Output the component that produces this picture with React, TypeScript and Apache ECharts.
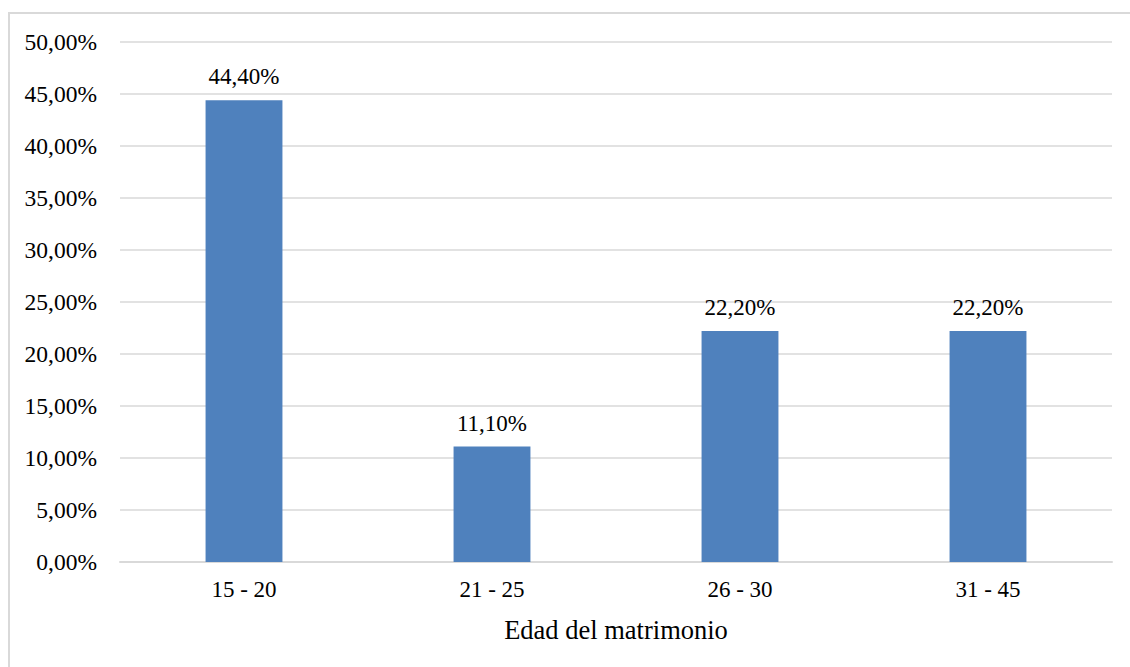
import React, { useEffect, useRef } from "react";
import * as echarts from "echarts";

const categories = ["15 - 20", "21 - 25", "26 - 30", "31 - 45"];
const values = [44.4, 11.1, 22.2, 22.2];
const axisName = "Edad del matrimonio";

const fmt = (v: number) => v.toFixed(2).replace(".", ",") + "%";

export default function App() {
  const ref = useRef<HTMLDivElement>(null);
  useEffect(() => {
    document.body.style.margin = "0";
    const chart = echarts.init(ref.current!, null, { renderer: "svg" });
    const font = "Liberation Serif";
    chart.setOption({
      animation: false,
      backgroundColor: "#ffffff",
      textStyle: { fontFamily: font },
      graphic: [
        {
          type: "rect",
          shape: { x: 9, y: 13, width: 1200, height: 800 },
          style: { fill: "none", stroke: "#d9d9d9", lineWidth: 2 },
          silent: true,
        },
      ],
      grid: { left: 120, right: 18, top: 42, bottom: 105 },
      xAxis: {
        type: "category",
        data: categories,
        name: axisName,
        nameLocation: "middle",
        nameGap: 54,
        nameTextStyle: { fontFamily: font, fontSize: 26.5, color: "#000" },
        axisLine: { lineStyle: { color: "#d9d9d9", width: 2 } },
        axisTick: { show: false },
        axisLabel: { fontFamily: font, fontSize: 23, color: "#000", margin: 16 },
      },
      yAxis: {
        type: "value",
        min: 0,
        max: 50,
        interval: 5,
        axisLine: { show: false },
        axisTick: { show: false },
        splitLine: { lineStyle: { color: "#d9d9d9", width: 1.5 } },
        axisLabel: {
          fontFamily: font,
          fontSize: 23.5,
          color: "#000",
          margin: 23,
          formatter: (v: number) => fmt(v),
        },
      },
      series: [
        {
          type: "bar",
          data: values,
          barWidth: "31%",
          itemStyle: { color: "#4f81bd" },
          label: {
            show: true,
            position: "top",
            distance: 12,
            fontFamily: font,
            fontSize: 23,
            color: "#000",
            formatter: (p: any) => fmt(p.value),
          },
        },
      ],
    });
    return () => chart.dispose();
  }, []);
  return <div ref={ref} style={{ width: 1130, height: 667 }} />;
}
